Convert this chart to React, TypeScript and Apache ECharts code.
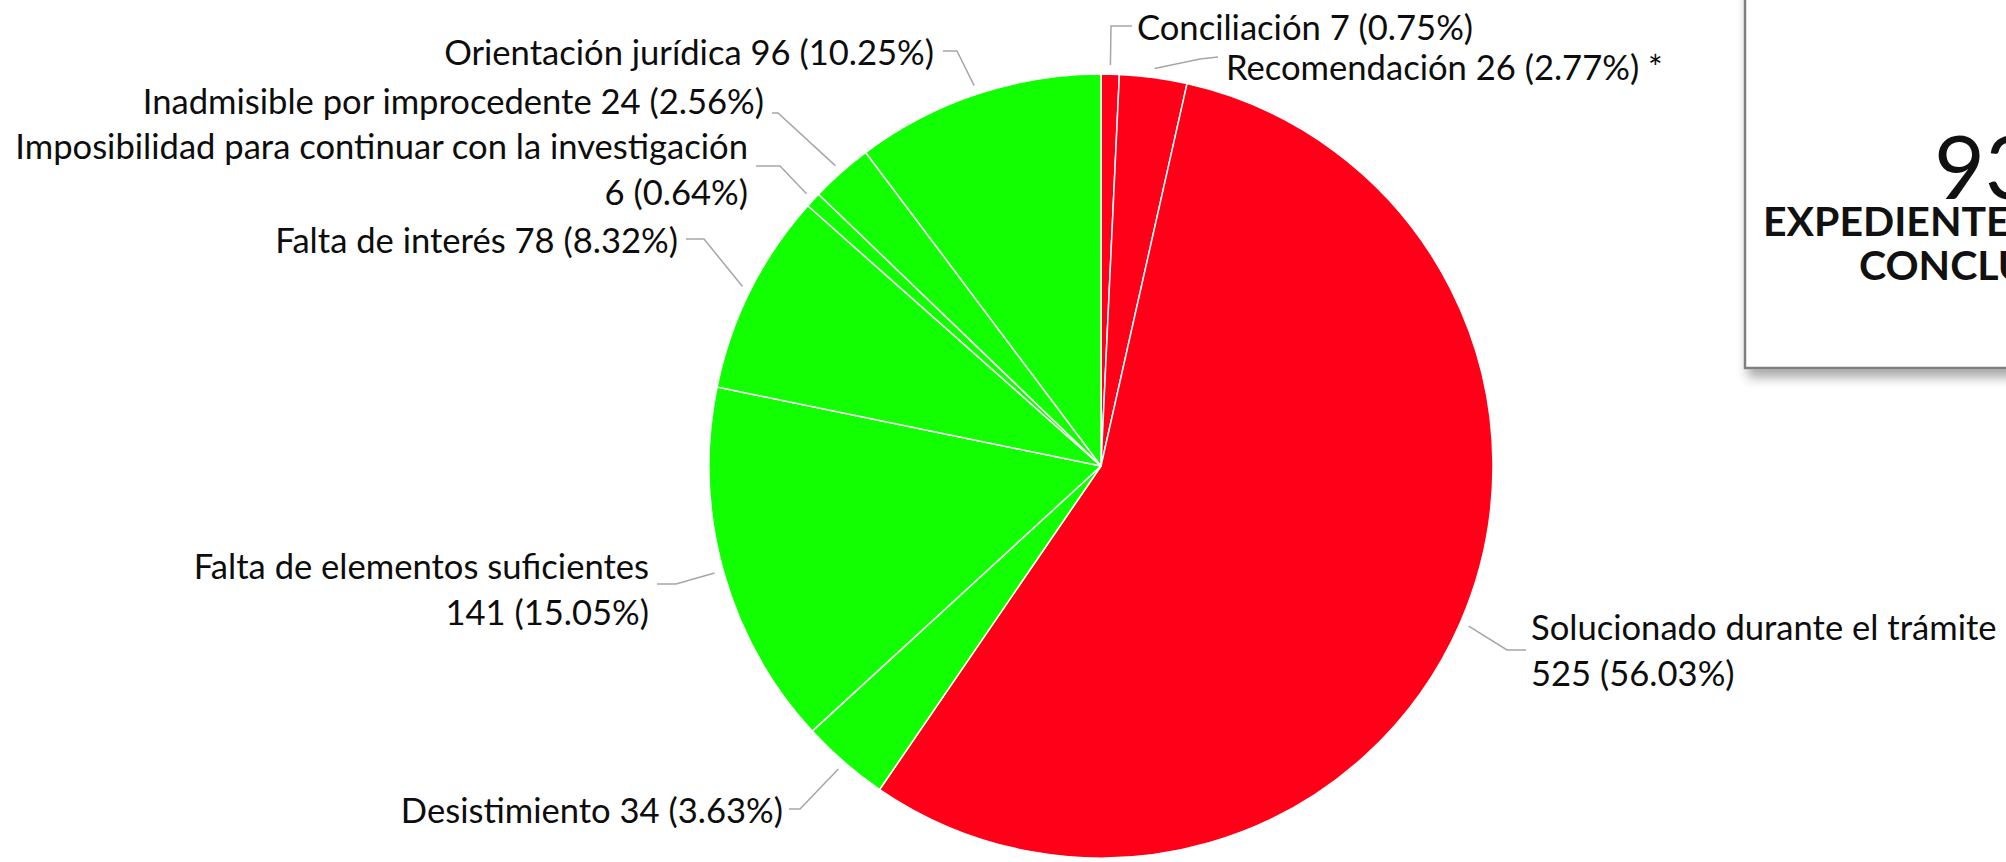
import React, { useEffect, useRef } from "react";
import * as echarts from "echarts";

const categories = [
  "Conciliación",
  "Recomendación",
  "Solucionado durante el trámite",
  "Desistimiento",
  "Falta de elementos suficientes",
  "Falta de interés",
  "Imposibilidad para continuar con la investigación",
  "Inadmisible por improcedente",
  "Orientación jurídica",
];
const values = [7, 26, 525, 34, 141, 78, 6, 24, 96];
const labelBreak = [false, false, true, false, true, false, true, false, false];
const labelSuffix = ["", " *", "", "", "", "", "", "", ""];
const totalText = "937";
const totalCaption = ["EXPEDIENTES", "CONCLUIDOS"];

const RED = "#FF0018";
const GREEN = "#11FF00";
const sliceColors = [RED, RED, RED, GREEN, GREEN, GREEN, GREEN, GREEN, GREEN];

const CX = 1101;
const CY = 466;
const R = 392;

// label placement (layout only): anchor, alignment and leader-line elbow/end
const labelPlace = [
  { x: 1137, y: 26, align: "left", elbow: [1111, 26], end: [1132, 26] },
  { x: 1226, y: 66, align: "left", elbow: [1200, 59], end: [1218, 57] },
  { x: 1531, y: 649, align: "left", elbow: [1507, 650], end: [1526, 650] },
  { x: 783, y: 809, align: "right", elbow: [800, 809], end: [789, 809] },
  { x: 649, y: 588, align: "right", elbow: [676, 584], end: [657, 584] },
  { x: 678, y: 239, align: "right", elbow: [704, 239], end: [686, 239] },
  { x: 748, y: 168, align: "right", elbow: [780, 166], end: [756, 166] },
  { x: 764, y: 100, align: "right", elbow: [778, 113], end: [772, 113] },
  { x: 934, y: 51, align: "right", elbow: [957, 51], end: [943, 51] },
];

export default function App() {
  const ref = useRef<HTMLDivElement>(null);

  useEffect(() => {
    if (!ref.current) return;
    const chart = echarts.init(ref.current, undefined, { renderer: "svg" });
    const total = values.reduce((a, b) => a + b, 0);
    const midAngles: number[] = [];
    let acc = 0;
    values.forEach((v) => {
      midAngles.push(((acc + v / 2) / total) * 2 * Math.PI);
      acc += v;
    });

    const data = categories.map((name, i) => ({
      name,
      value: values[i],
      itemStyle: { color: sliceColors[i] },
    }));

    chart.setOption({
      animation: false,
      backgroundColor: "#ffffff",
      graphic: [
        {
          type: "rect",
          z: 1,
          shape: { x: 1745, y: -20, width: 500, height: 388 },
          style: {
            fill: "#ffffff",
            stroke: "#7f7f7f",
            lineWidth: 2.5,
            shadowBlur: 12,
            shadowOffsetX: 4,
            shadowOffsetY: 8,
            shadowColor: "rgba(0,0,0,0.35)",
          },
        },
        {
          type: "text",
          z: 2,
          x: 1934,
          y: 165,
          style: {
            text: totalText,
            fontFamily: "Lato",
            fontSize: 88,
            lineHeight: 56,
            fill: "#111111",
            align: "left",
            verticalAlign: "middle",
          },
        },
        {
          type: "text",
          z: 2,
          x: 1763,
          y: 220,
          style: {
            text: totalCaption[0],
            fontFamily: "Lato",
            fontWeight: "bold",
            fontSize: 41,
            lineHeight: 34,
            fill: "#111111",
            align: "left",
            verticalAlign: "middle",
          },
        },
        {
          type: "text",
          z: 2,
          x: 1859,
          y: 264,
          style: {
            text: totalCaption[1],
            fontFamily: "Lato",
            fontWeight: "bold",
            fontSize: 41,
            lineHeight: 34,
            fill: "#111111",
            align: "left",
            verticalAlign: "middle",
          },
        },
      ],
      series: [
        {
          type: "pie",
          center: [CX, CY],
          radius: R,
          startAngle: 90,
          clockwise: true,
          avoidLabelOverlap: false,
          data,
          itemStyle: { borderColor: "#ffffff", borderWidth: 1.5 },
          label: {
            show: true,
            position: "outside",
            fontFamily: "Lato",
            fontSize: 34.6,
            lineHeight: 46,
            color: "#0d0d0d",
            formatter: (p: any) => {
              const i = p.dataIndex;
              const pct = ((values[i] / total) * 100).toFixed(2);
              const sep = labelBreak[i] ? "\n" : " ";
              return `${categories[i]}${sep}${values[i]} (${pct}%)${labelSuffix[i]}`;
            },
          },
          labelLine: {
            show: true,
            length: 10,
            length2: 10,
            lineStyle: { color: "#A6A6A6", width: 1.5 },
          },
          labelLayout: (params: any) => {
            const i = params.dataIndex;
            const pl = labelPlace[i];
            const a = midAngles[i];
            const p0 = [CX + (R + 9) * Math.sin(a), CY - (R + 9) * Math.cos(a)];
            return {
              x: pl.x,
              y: pl.y,
              align: pl.align,
              verticalAlign: "middle",
              labelLinePoints: [p0, pl.elbow, pl.end],
            };
          },
          emphasis: { disabled: true },
        },
      ],
    });
    return () => chart.dispose();
  }, []);

  return (
    <div
      ref={ref}
      style={{ position: "absolute", left: 0, top: 0, width: 2006, height: 862 }}
    />
  );
}
